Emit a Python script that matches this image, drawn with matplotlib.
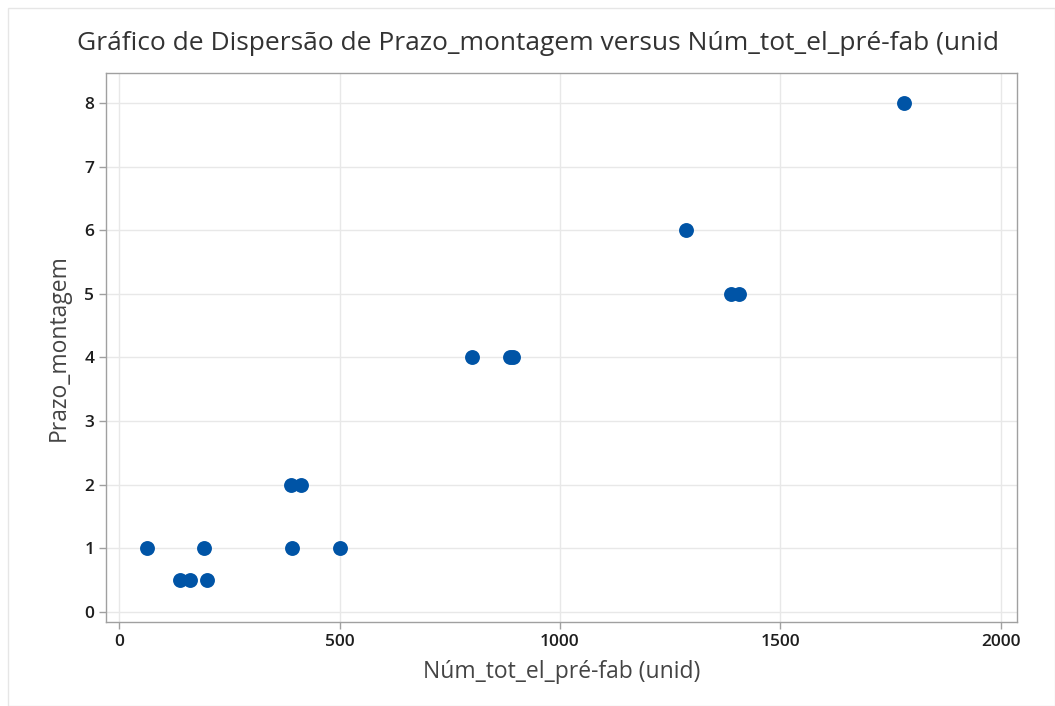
import matplotlib
matplotlib.use("Agg")
import matplotlib.pyplot as plt
from matplotlib.patches import Rectangle

plt.rcParams['font.family'] = ['Open Sans', 'DejaVu Sans']

x_vals = [63, 138, 160, 193, 199, 390, 413, 393, 500, 800, 887, 893, 1287, 1387, 1407, 1780]
y_vals = [1, 0.5, 0.5, 1, 0.5, 2, 2, 1, 1, 4, 4, 4, 6, 5, 5, 8]
x_ticks = [0, 500, 1000, 1500, 2000]
y_ticks = [0, 1, 2, 3, 4, 5, 6, 7, 8]

title = "Gráfico de Dispersão de Prazo_montagem versus Núm_tot_el_pré-fab (unid"
xlabel = "Núm_tot_el_pré-fab (unid)"
ylabel = "Prazo_montagem"

W, H = 1055, 706
fig = plt.figure(figsize=(W / 100, H / 100), dpi=100)
fig.patch.set_facecolor('white')

# outer light border
fig.add_artist(Rectangle((8 / W, 0), (W - 8) / W, (H - 8) / H, transform=fig.transFigure,
                         fill=False, edgecolor='#e6e6e6', linewidth=1))

ax = fig.add_axes([106 / W, 1 - 622 / H, (1017 - 106) / W, (622 - 73) / H])
ax.scatter(x_vals, y_vals, s=115, color='#0054A6', zorder=3, linewidths=0)

ax.set_xlim(-30, 2037)
ax.set_ylim(-0.16, 8.47)
ax.set_xticks(x_ticks)
ax.set_yticks(y_ticks)
ax.grid(True, color='#e8e8e8', linewidth=1, zorder=0)
ax.set_axisbelow(True)
for s in ax.spines.values():
    s.set_color('#a0a0a0')
    s.set_linewidth(1)
ax.tick_params(axis='both', colors='#a0a0a0', labelcolor='#1e1e1e', labelsize=12.5, length=5, width=1)
for lab in ax.get_xticklabels() + ax.get_yticklabels():
    lab.set_fontweight('semibold')

ax.set_xlabel(xlabel, fontsize=16.5, color='#444444', labelpad=7)
ax.set_ylabel(ylabel, fontsize=16.5, color='#444444', labelpad=10)
fig.text(538 / W, 1 - 44 / H, title, fontsize=19, color='#333333', ha='center', va='center')

fig.savefig('out.png', dpi=100, facecolor='white')
